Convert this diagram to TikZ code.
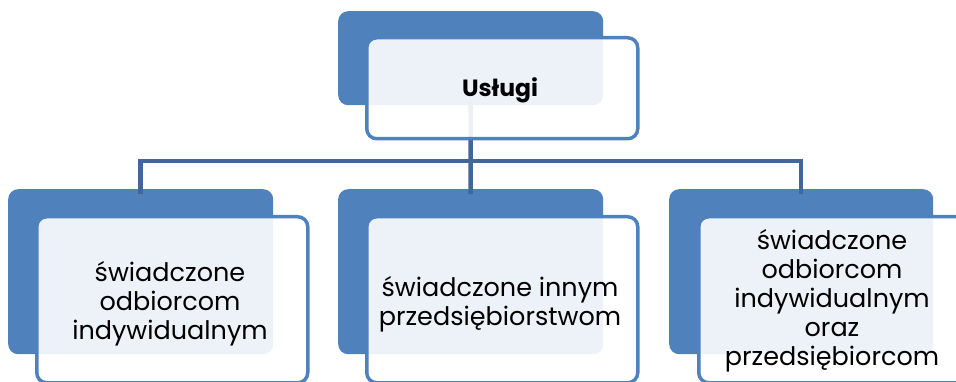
\documentclass[tikz,border=0pt]{standalone}
\usepackage{fontspec}
\setmainfont{Poppins}
\definecolor{accent}{HTML}{4F81BD}
\definecolor{linkblue}{HTML}{41679A}
\tikzset{
  backbox/.style={draw=none, fill=accent, rounded corners=10pt, inner sep=0pt, anchor=north west},
  frontbox/.style={draw=accent, line width=3.5pt, fill=white, fill opacity=0.9, rounded corners=10pt, inner sep=0pt, anchor=north west},
  label/.style={align=center, inner sep=0pt, font=\fontsize{25.5}{29}\selectfont, text=black},
  conn/.style={draw=linkblue, line width=4.5pt}
}
\begin{document}
\begin{tikzpicture}[x=1pt,y=-1pt]
\useasboundingbox (0,0) rectangle (956,382);
% filled back plates
\node[backbox, minimum width=265pt, minimum height=94pt] (topback) at (338,11) {};
\node[backbox, minimum width=265pt, minimum height=165pt] (lback) at (8,189) {};
\node[backbox, minimum width=265pt, minimum height=165pt] (mback) at (338,189) {};
\node[backbox, minimum width=264pt, minimum height=165pt] (rback) at (669,189) {};
% elbow connectors from the root to the three children
\coordinate (hub) at (470.5,161);
\draw[conn] ([yshift=5pt]topback.south) -- (hub);
\draw[conn] (hub) -| ([yshift=-5pt]lback.north);
\draw[conn] (hub) -- ([yshift=-5pt]mback.north);
\draw[conn] (hub) -| ([yshift=-5pt]rback.north);
% translucent front panels
\node[frontbox, minimum width=271pt, minimum height=101pt] (topfront) at (365,36) {};
\node[frontbox, minimum width=271pt, minimum height=166pt] (lfront) at (35,215) {};
\node[frontbox, minimum width=271pt, minimum height=166pt] (mfront) at (365,215) {};
\node[frontbox, minimum width=271pt, minimum height=166pt] (rfront) at (697,215) {};
% texts
\node[label, font=\fontsize{23.5}{29}\selectfont\bfseries, anchor=base] (toptext) at (500,97) {Usługi};
\node[label] (ltext) at (170,304) {świadczone\\odbiorcom\\indywidualnym};
\node[label] (mtext) at (500,304) {świadczone innym\\przedsiębiorstwom};
\node[label] (rtext) at (832,301) {świadczone\\odbiorcom\\indywidualnym\\oraz\\przedsiębiorcom};
\end{tikzpicture}
\end{document}
